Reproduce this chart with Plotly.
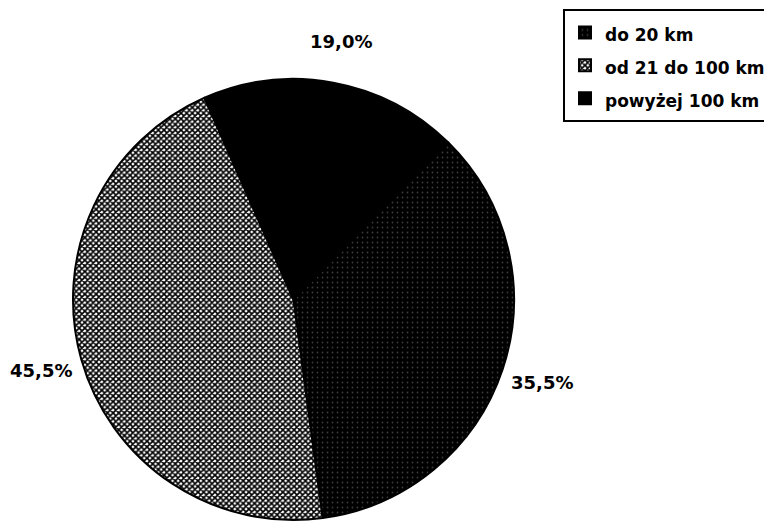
import math
import plotly.graph_objects as go

# distance bands and their shares (%)
labels = ["do 20 km", "od 21 do 100 km", "powyżej 100 km"]
shares = [35.5, 45.5, 19.0]

W, H = 764, 525
FONT = "DejaVu Sans, Liberation Sans, Arial"
START_ANGLE = 44.6  # first slice starts here, clockwise from 12 o'clock

pct_text = [f"{v:.1f}%".replace(".", ",") for v in shares]
legend_names = [f"<span style='font-size:17px'>{n}</span>" for n in labels]

# pie box in pixels: centre (293.5, 299.5), radius 220.5
cx, cy, r = 293.5, 299.5, 220.5
dom_x = [(cx - r) / W, (cx + r) / W]
dom_y = [1 - (cy + r) / H, 1 - (cy - r) / H]

fig = go.Figure(
    go.Pie(
        labels=legend_names,
        values=shares,
        textinfo="none",
        sort=False,
        direction="clockwise",
        rotation=START_ANGLE,
        hoverinfo="label+percent",
        domain=dict(x=dom_x, y=dom_y),
        marker=dict(
            colors=["black", "white", "black"],
            line=dict(color="black", width=2),
            pattern=dict(
                shape=[".", "x", ""],
                fgcolor=["#3c3c3c", "black", "black"],
                bgcolor=["black", "white", "black"],
                size=[5, 4, 8],
                solidity=[0.1, 0.65, 0.3],
            ),
        ),
    )
)

# percentage labels set outside each slice, on its mid-angle
total = sum(shares)
acc = 0.0
label_r = 1.19 * r
for v, t in zip(shares, pct_text):
    mid = math.radians(START_ANGLE + 360 * (acc + v / 2) / total)
    acc += v
    px = cx + label_r * math.sin(mid)
    py = cy - label_r * math.cos(mid)
    fig.add_annotation(
        x=px / W, y=1 - py / H, xref="paper", yref="paper",
        text=t, showarrow=False, xanchor="center", yanchor="middle",
        font=dict(family=FONT, size=18, color="black", weight="bold"),
    )

fig.update_layout(
    width=W,
    height=H,
    margin=dict(l=0, r=0, t=0, b=0, autoexpand=False),
    paper_bgcolor="white",
    plot_bgcolor="white",
    showlegend=True,
    legend=dict(
        x=563 / W,
        y=1 - 9 / H,
        xanchor="left",
        yanchor="top",
        bordercolor="black",
        borderwidth=2,
        bgcolor="white",
        font=dict(family=FONT, size=23, color="black", weight="bold"),
        traceorder="normal",
    ),
)

fig.write_html("out.html")
